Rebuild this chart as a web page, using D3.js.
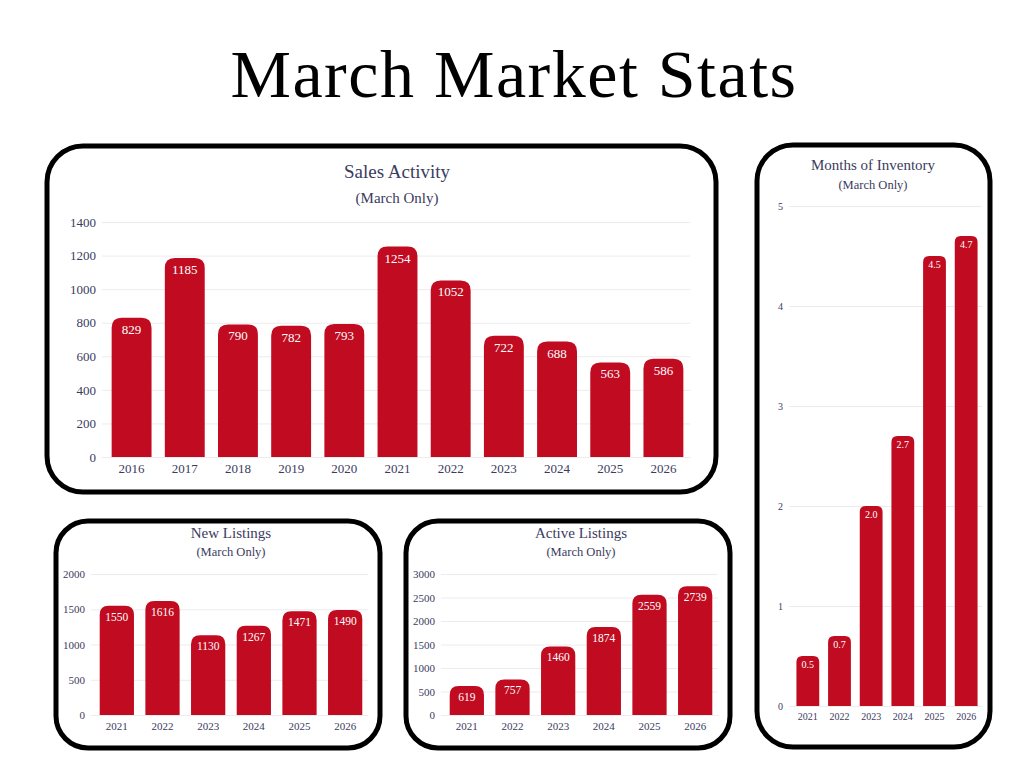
<!DOCTYPE html>
<html><head><meta charset="utf-8">
<script src="https://cdn.jsdelivr.net/npm/d3@7"></script>
<style>body{margin:0;background:#fff}svg{display:block}</style>
</head><body>
<svg id="c" width="1024" height="768"></svg>
<script>
const salesYears = ["2016","2017","2018","2019","2020","2021","2022","2023","2024","2025","2026"];
const salesValues = [829,1185,790,782,793,1254,1052,722,688,563,586];
const salesTicks = [0,200,400,600,800,1000,1200,1400];

const recentYears = ["2021","2022","2023","2024","2025","2026"];
const newListings = [1550,1616,1130,1267,1471,1490];
const newTicks = [0,500,1000,1500,2000];
const activeListings = [619,757,1460,1874,2559,2739];
const activeTicks = [0,500,1000,1500,2000,2500,3000];
const inventory = [0.5,0.7,2.0,2.7,4.5,4.7];
const inventoryLabels = ["0.5","0.7","2.0","2.7","4.5","4.7"];
const inventoryTicks = [0,1,2,3,4,5];

const RED = "#c00b20", TXT = "#3b3b5e", GRID = "#ececef";
const FONT = "'Liberation Serif', 'DejaVu Serif', serif";
const svg = d3.select("#c");

svg.append("text").attr("x",514).attr("y",97).attr("text-anchor","middle")
  .attr("font-family",FONT).attr("font-size",68).attr("fill","#000")
  .attr("letter-spacing",1.5).text("March Market Stats");

function roundTop(x,y,w,h,r){
  r=Math.min(r,h,w/2);
  return `M${x},${y+h}V${y+r}Q${x},${y} ${x+r},${y}H${x+w-r}Q${x+w},${y} ${x+w},${y+r}V${y+h}Z`;
}

function panel(o){
  const g = svg.append("g");
  g.append("rect").attr("x",o.box[0]).attr("y",o.box[1]).attr("width",o.box[2]).attr("height",o.box[3])
    .attr("rx",o.rad).attr("fill","#fff").attr("stroke","#000").attr("stroke-width",5);
  g.append("text").attr("x",o.cx).attr("y",o.titleY).attr("text-anchor","middle")
    .attr("font-family",FONT).attr("font-size",o.titleSize).attr("fill",TXT).text(o.title);
  g.append("text").attr("x",o.cx).attr("y",o.subY).attr("text-anchor","middle")
    .attr("font-family",FONT).attr("font-size",o.subSize).attr("fill",TXT).text("(March Only)");
  const x = d3.scaleBand().domain(o.cats).range([o.x0,o.x1]).paddingInner(o.pad).paddingOuter(o.pad/2);
  const y = d3.scaleLinear().domain([0,o.max]).range([o.y0,o.y1]);
  const ax = g.append("g").attr("transform",`translate(${o.x0-3},0)`)
    .call(d3.axisLeft(y).tickValues(o.ticks).tickFormat(d3.format("d")).tickSize(-(o.x1-o.x0+3)).tickPadding(6));
  ax.select(".domain").remove();
  ax.selectAll("line").attr("stroke",GRID);
  ax.selectAll("text").attr("font-family",FONT).attr("font-size",o.tickSize).attr("fill",TXT);
  const bx = g.append("g").attr("transform",`translate(0,${o.y0})`)
    .call(d3.axisBottom(x).tickSize(0).tickPadding(7));
  bx.select(".domain").attr("stroke",GRID);
  bx.selectAll("text").attr("font-family",FONT).attr("font-size",o.tickSize).attr("fill",TXT);
  g.selectAll(".bar").data(o.vals).enter().append("path")
    .attr("fill",RED)
    .attr("d",(d,i)=>roundTop(x(o.cats[i]),y(d),x.bandwidth(),o.y0-y(d),o.r));
  g.selectAll(".lbl").data(o.vals).enter().append("text")
    .attr("x",(d,i)=>x(o.cats[i])+x.bandwidth()/2).attr("y",d=>y(d)+o.lblOff)
    .attr("text-anchor","middle").attr("font-family",FONT).attr("font-size",o.lblSize)
    .attr("fill","#fff").text((d,i)=>o.labels?o.labels[i]:d);
}

panel({box:[47,146,669,346],rad:36,cx:397,title:"Sales Activity",titleY:178,titleSize:19,subY:203,subSize:15,
  cats:salesYears,vals:salesValues,ticks:salesTicks,max:1400,x0:105,x1:690,y0:457,y1:222,pad:0.25,
  r:10,tickSize:13,lblOff:16,lblSize:13});
panel({box:[757,145,233,602],rad:36,cx:873,title:"Months of Inventory",titleY:170,titleSize:15,subY:189,subSize:12.5,
  cats:recentYears,vals:inventory,labels:inventoryLabels,ticks:inventoryTicks,max:5,x0:792,x1:982,y0:706,y1:206,pad:0.28,
  r:6,tickSize:10,lblOff:12,lblSize:10});
panel({box:[56,521,324,227],rad:32,cx:231,title:"New Listings",titleY:538,titleSize:15,subY:556,subSize:12.5,
  cats:recentYears,vals:newListings,ticks:newTicks,max:2000,x0:94,x1:368,y0:715,y1:574,pad:0.25,
  r:9,tickSize:11,lblOff:15,lblSize:11.5});
panel({box:[406,521,324,227],rad:32,cx:581,title:"Active Listings",titleY:538,titleSize:15,subY:556,subSize:12.5,
  cats:recentYears,vals:activeListings,ticks:activeTicks,max:3000,x0:444,x1:718,y0:715,y1:574,pad:0.25,
  r:9,tickSize:11,lblOff:15,lblSize:11.5});
</script>
</body></html>
